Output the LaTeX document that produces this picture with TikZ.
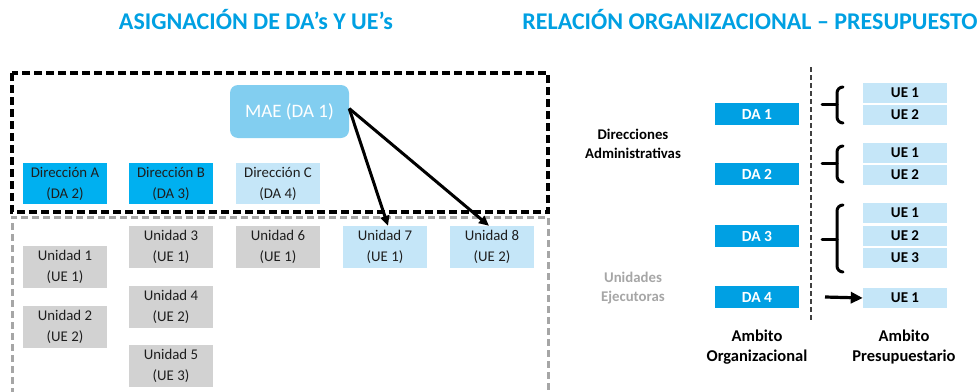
\documentclass[tikz,border=0pt]{standalone}
\usepackage{fontspec}
\setmainfont{Carlito}
\usetikzlibrary{arrows.meta}
\definecolor{titleblue}{RGB}{0,160,226}
\definecolor{dacyan}{RGB}{0,160,227}
\definecolor{dircyan}{RGB}{0,176,240}
\definecolor{lightblue}{RGB}{197,230,248}
\definecolor{maeblue}{RGB}{130,206,240}
\definecolor{unitgray}{RGB}{210,210,210}
\definecolor{labelgray}{RGB}{166,166,166}
\definecolor{txtdark}{RGB}{30,30,30}
\begin{document}
\begin{tikzpicture}[x=1pt,y=-1pt,
  title/.style={font=\fontsize{24}{28}\selectfont\bfseries, text=titleblue},
  orgbox/.style={minimum width=84pt, minimum height=41pt, inner sep=0pt, align=center, text=txtdark, font=\fontsize{14.8}{21}\selectfont},
  dirbox/.style={orgbox, fill=dircyan},
  dirlight/.style={orgbox, fill=lightblue},
  unitbox/.style={orgbox, fill=unitgray, minimum height=42pt},
  unitlight/.style={orgbox, fill=lightblue, minimum height=42pt},
  dabox/.style={minimum width=84pt, minimum height=22pt, inner sep=0pt, fill=dacyan, text=white, font=\fontsize{15.5}{17}\selectfont\bfseries},
  uebox/.style={minimum width=84pt, minimum height=20pt, inner sep=0pt, fill=lightblue, text=black, font=\fontsize{15}{17}\selectfont\bfseries},
  sidelabel/.style={align=center, font=\fontsize{14.8}{19}\selectfont\bfseries},
  footlabel/.style={align=center, font=\fontsize{16.5}{20}\selectfont\bfseries},
  arrowline/.style={line width=3pt, -{Triangle[length=10pt,width=9pt]}},
  bracel/.style={line width=3pt, line cap=round}
]
\useasboundingbox (0,0) rectangle (977,391);

% titles
\node[title] (t1) at (256,20) {ASIGNACIÓN DE DA’s Y UE’s};
\node[title] (t2) at (750,20) {RELACIÓN ORGANIZACIONAL – PRESUPUESTO};

% left panel frames
\draw[line width=3.5pt, dash pattern=on 8pt off 4pt] (12,73) rectangle (548,212);
\draw[line width=3pt, labelgray, dash pattern=on 7pt off 4pt] (12,395) -- (12,217) -- (548,217) -- (548,395);

% MAE
\node[fill=maeblue, rounded corners=8pt, minimum width=119pt, minimum height=53pt, inner sep=0pt, text=white, font=\fontsize{19}{22}\selectfont] (mae) at (289.5,111.5) {MAE (DA 1)};

% direcciones
\node[dirbox] (dirA) at (65,183.5) {Dirección A\\(DA 2)};
\node[dirbox] (dirB) at (171,183.5) {Dirección B\\(DA 3)};
\node[dirlight] (dirC) at (278,183.5) {Dirección C\\(DA 4)};

% unidades
\node[unitbox] (u1) at (65,267) {Unidad 1\\(UE 1)};
\node[unitbox] (u2) at (65,326.5) {Unidad 2\\(UE 2)};
\node[unitbox] (u3) at (171,247) {Unidad 3\\(UE 1)};
\node[unitbox] (u4) at (171,306.5) {Unidad 4\\(UE 2)};
\node[unitbox] (u5) at (171,365.5) {Unidad 5\\(UE 3)};
\node[unitbox] (u6) at (278,247) {Unidad 6\\(UE 1)};
\node[unitlight] (u7) at (385,247) {Unidad 7\\(UE 1)};
\node[unitlight] (u8) at (492,247) {Unidad 8\\(UE 2)};

\draw[arrowline] ([yshift=3pt]mae.east) -- ([xshift=3pt]u7.north);
\draw[arrowline] ([yshift=3pt]mae.east) -- ([xshift=-3pt]u8.north);

% right panel
\draw[line width=1.6pt, black!75, dash pattern=on 5pt off 3pt] (811,67) -- (811,322);

\node[sidelabel] (lda) at (633,144) {Direcciones\\Administrativas};
\node[sidelabel, text=labelgray] (lue) at (633,288) {Unidades\\Ejecutoras};

\node[dabox] (da1) at (757,114) {DA 1};
\node[dabox] (da2) at (757,174) {DA 2};
\node[dabox] (da3) at (757,236) {DA 3};
\node[dabox] (da4) at (757,297) {DA 4};

\node[uebox] (g1a) at (905,93) {UE 1};
\node[uebox] (g1b) at (905,115) {UE 2};
\node[uebox] (g2a) at (905,152.5) {UE 1};
\node[uebox] (g2b) at (905,175) {UE 2};
\node[uebox] (g3a) at (905,212.5) {UE 1};
\node[uebox] (g3b) at (905,235.5) {UE 2};
\node[uebox] (g3c) at (905,258) {UE 3};
\node[uebox] (g4a) at (905,298) {UE 1};

% braces
\draw[bracel] (843,87) to[out=180,in=90] (837,93) -- (837,117) to[out=-90,in=180] (843,123);
\draw[bracel] (822,104) -- (837,104);
\draw[bracel] (843,146) to[out=180,in=90] (837,152) -- (837,176) to[out=-90,in=180] (843,182);
\draw[bracel] (822,163) -- (837,163);
\draw[bracel] (843,205) to[out=180,in=90] (837,211) -- (837,266) to[out=-90,in=180] (843,272);
\draw[bracel] (822,239) -- (837,239);

\coordinate (a4s) at (825,297);
\draw[line width=3.2pt, -{Triangle[length=12pt,width=11pt]}] (a4s) -- (g4a.west);

\node[footlabel] (fo) at (757,347) {Ambito\\Organizacional};
\node[footlabel] (fp) at (904,347) {Ambito\\Presupuestario};
\end{tikzpicture}
\end{document}
